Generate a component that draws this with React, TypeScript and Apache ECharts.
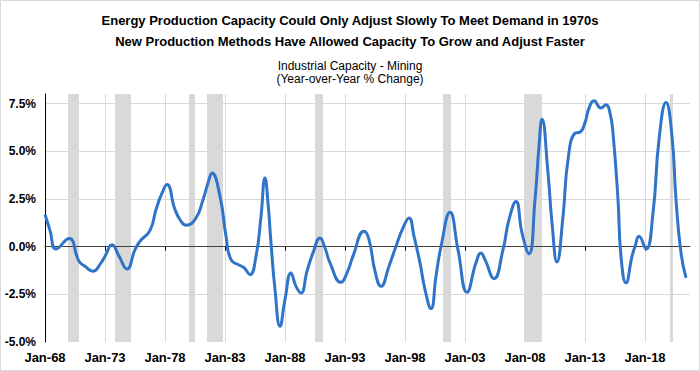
import React, { useEffect, useRef } from 'react';
import * as echarts from 'echarts';

const titleLines = [
  'Energy Production Capacity Could Only Adjust Slowly To Meet Demand in 1970s',
  'New Production Methods Have Allowed Capacity To Grow and Adjust Faster',
];
const subtitleLines = ['Industrial Capacity - Mining', '(Year-over-Year % Change)'];

const dates = [
  '1968-01', '1968-06', '1968-12', '1970-01', '1970-11', '1971-05', '1972-01', '1972-09', '1973-01', '1973-08',
  '1974-03', '1974-11', '1975-07', '1975-12', '1976-10', '1977-04', '1977-10', '1978-03', '1978-11', '1979-05',
  '1979-10', '1980-08', '1981-03', '1981-08', '1981-12', '1982-08', '1983-02', '1983-07', '1984-04', '1984-08',
  '1985-02', '1985-08', '1986-01', '1986-05', '1986-08', '1986-11', '1987-03', '1987-08', '1988-01', '1988-07',
  '1988-12', '1989-05', '1989-11', '1990-05', '1990-12', '1991-05', '1991-10', '1992-09', '1993-03', '1993-09',
  '1994-08', '1995-01', '1995-07', '1996-01', '1996-09', '1997-04', '1997-11', '1998-05', '1998-10', '1999-04',
  '1999-09', '2000-03', '2000-08', '2001-01', '2001-10', '2002-06', '2003-03', '2003-12', '2004-05', '2004-09',
  '2005-06', '2006-03', '2006-09', '2007-04', '2007-10', '2008-05', '2008-11', '2009-03', '2009-06', '2009-12',
  '2010-04', '2010-09', '2011-03', '2011-08', '2012-03', '2012-08', '2013-01', '2013-05', '2013-10', '2014-05',
  '2014-10', '2015-02', '2015-05', '2015-10', '2016-01', '2016-06', '2016-12', '2017-03', '2017-07', '2018-02',
  '2018-09', '2019-03', '2019-10', '2020-04', '2020-08', '2021-01', '2021-06',
];
const capacityChange = [
  1.68, 0.85, -0.12, 0.42, -0.77, -1.03, -1.29, -0.85, -0.5, 0.1,
  -0.5, -1.17, -0.16, 0.28, 0.85, 1.94, 2.8, 3.25, 1.94, 1.33,
  1.12, 1.5, 2.46, 3.33, 3.86, 2.63, 0.54, -0.68, -0.99, -1.1,
  -1.47, -0.51, 1.59, 3.6, 2.29, 0.19, -2.25, -4.17, -2.77, -1.38,
  -2.08, -2.43, -1.29, -0.33, 0.45, -0.07, -0.85, -1.87, -1.38, -0.5,
  0.8, 0.37, -1.29, -2.08, -1.03, 0.02, 0.98, 1.5, 0.54, -0.85,
  -2.25, -3.25, -1.55, 0.0, 1.8, -0.17, -2.39, -0.85, -0.33, -0.68,
  -1.68, -0.16, 1.41, 2.37, 0.72, -0.37, 2.46, 5.25, 6.68, 3.86,
  1.24, -0.8, 1.59, 4.55, 5.95, 6.0, 6.5, 7.26, 7.64, 7.26,
  7.43, 7.0, 5.95, 2.46, -0.51, -1.9, -0.51, 0.0, 0.54, -0.12,
  1.76, 5.6, 7.56, 5.78, 2.46, -0.33, -1.64,
];

const recessionStarts = ['1969-12', '1973-11', '1980-01', '1981-07', '1990-07', '2001-03', '2007-12', '2020-02'];
const recessionEnds = ['1970-11', '1975-03', '1980-07', '1982-11', '1991-03', '2001-11', '2009-06', '2020-05'];

const axisStart = '1968-01';
const axisEnd = '2021-10';
const tickYears = 5;

const yMin = -5;
const yMax = 8;
const yStep = 2.5;

function monthIndex(s: string): number {
  const [y, m] = s.split('-').map(Number);
  const [y0, m0] = axisStart.split('-').map(Number);
  return (y - y0) * 12 + (m - m0);
}

const FONT = '"Liberation Sans", Arial, sans-serif';

export default function App() {
  const ref = useRef<HTMLDivElement>(null);
  useEffect(() => {
    const chart = echarts.init(ref.current!, null, { renderer: 'svg' });
    const data = dates.map((d, i) => [monthIndex(d), capacityChange[i]]);
    const xMax = monthIndex(axisEnd);
    const step = tickYears * 12;
    const tickValues: number[] = [];
    for (let v = step; v < xMax; v += step) tickValues.push(v);
    const [y0] = axisStart.split('-').map(Number);
    const bands = recessionStarts.map((s, i) => [
      { xAxis: monthIndex(s) },
      { xAxis: monthIndex(recessionEnds[i]) },
    ]);

    chart.setOption({
      animation: false,
      backgroundColor: '#ffffff',
      grid: { left: 45, right: 10, top: 94, bottom: 29, containLabel: false },
      graphic: [
        {
          type: 'rect',
          shape: { x: 0.5, y: 0.5, width: 699, height: 370 },
          style: { fill: 'none', stroke: '#d9d9d9', lineWidth: 1 },
          silent: true,
        },
        {
          type: 'text', x: 350, y: 20,
          style: { text: titleLines[0], align: 'center', verticalAlign: 'middle', font: `bold 13px ${FONT}`, fill: '#000' },
        },
        {
          type: 'text', x: 350, y: 41,
          style: { text: titleLines[1], align: 'center', verticalAlign: 'middle', font: `bold 13px ${FONT}`, fill: '#000' },
        },
        {
          type: 'text', x: 350, y: 66,
          style: { text: subtitleLines[0], align: 'center', verticalAlign: 'middle', font: `12px ${FONT}`, fill: '#000' },
        },
        {
          type: 'text', x: 350, y: 79,
          style: { text: subtitleLines[1], align: 'center', verticalAlign: 'middle', font: `12px ${FONT}`, fill: '#000' },
        },
      ],
      xAxis: [
        {
          type: 'value', min: 0, max: xMax, interval: step, position: 'bottom',
          axisLine: { show: false, onZero: false },
          axisTick: { show: false },
          axisLabel: {
            margin: 9, showMaxLabel: false,
            color: '#000', fontFamily: FONT, fontWeight: 'bold', fontSize: 13,
            formatter: (v: number) => {
              if (v % step !== 0) return '';
              const yr = y0 + v / 12;
              return 'Jan-' + String(yr % 100).padStart(2, '0');
            },
          },
          splitLine: { show: true, showMinLine: false, showMaxLine: false, lineStyle: { color: '#d9d9d9', width: 1 } },
        },
        {
          type: 'value', min: 0, max: xMax, interval: step, position: 'top', z: 2,
          axisLine: { show: true, onZero: true, lineStyle: { color: '#404040', width: 1 } },
          axisTick: { show: true, inside: true, length: 4, customValues: tickValues, lineStyle: { color: '#000' } },
          axisLabel: { show: false },
          splitLine: { show: false },
        },
      ],
      yAxis: {
        type: 'value', min: yMin, max: yMax, interval: yStep,
        axisLine: { show: true, onZero: false, lineStyle: { color: '#000', width: 1 } },
        axisTick: { show: false },
        axisLabel: {
          margin: 9, showMaxLabel: false,
          color: '#000', fontFamily: FONT, fontWeight: 'bold', fontSize: 12,
          formatter: (v: number) => (Math.abs(v / yStep - Math.round(v / yStep)) < 1e-6 ? v.toFixed(1) + '%' : ''),
        },
        splitLine: { show: true, showMinLine: false, showMaxLine: false, lineStyle: { color: '#d9d9d9', width: 1 } },
      },
      series: [
        {
          type: 'line', xAxisIndex: 0, yAxisIndex: 0, z: 1, data: [], silent: true,
          markArea: { silent: true, itemStyle: { color: '#d9d9d9' }, data: bands },
        },
        {
          type: 'line', xAxisIndex: 0, yAxisIndex: 0, z: 3,
          data, showSymbol: false, smooth: 0.5,
          lineStyle: { color: '#2f74c9', width: 3 },
        },
      ],
    });
    return () => chart.dispose();
  }, []);
  return <div ref={ref} style={{ position: 'fixed', left: 0, top: 0, width: 700, height: 371 }} />;
}
